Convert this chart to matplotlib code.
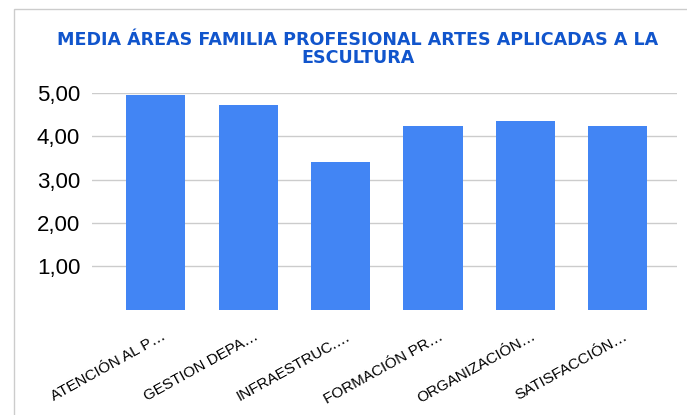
import matplotlib.pyplot as plt
from matplotlib.patches import Rectangle
from matplotlib.ticker import FuncFormatter
from matplotlib.transforms import ScaledTranslation

# media por área
areas = ['ATENCIÓN AL P…', 'GESTION DEPA…', 'INFRAESTRUC.…',
         'FORMACIÓN PR…', 'ORGANIZACIÓN…', 'SATISFACCIÓN…']
medias = [4.95, 4.73, 3.41, 4.23, 4.35, 4.23]
yticks = [1, 2, 3, 4, 5]

plt.rcParams['font.family'] = ['Liberation Sans', 'DejaVu Sans']

fig = plt.figure(figsize=(6.87, 4.15), dpi=100)
# marco gris del gráfico
fig.patches.append(Rectangle((14 / 687, -0.1), 1.2, 1.1 - 9 / 415,
                             transform=fig.transFigure, fill=False,
                             edgecolor='#cccccc', linewidth=1))

ax = fig.add_axes([92 / 687, 1 - 309.5 / 415, (677 - 92) / 687, (309.5 - 93) / 415])
x = range(len(areas))
ax.bar(x, medias, width=0.64, color='#4285f4', zorder=3)

ax.set_ylim(0, 5)
ax.set_xlim(-0.69, 5.64)
ax.set_yticks(yticks)
ax.yaxis.set_major_formatter(FuncFormatter(lambda v, p: f'{v:.2f}'.replace('.', ',')))
ax.grid(axis='y', color='#cccccc', linewidth=1, zorder=0)
for s in ax.spines.values():
    s.set_visible(False)
ax.tick_params(axis='y', length=0, pad=8.5, labelsize=16)
ax.tick_params(axis='x', length=0, pad=0)
ax.set_xticks(list(x))
ax.set_xticklabels(areas, rotation=29, ha='right', va='center', rotation_mode='anchor',
                   fontsize=11)
off = ScaledTranslation(9 / 100, -26 / 100, fig.dpi_scale_trans)
for lab in ax.get_xticklabels():
    lab.set_transform(lab.get_transform() + off)

fig.text(0.521, 1 - 49 / 415, 'MEDIA ÁREAS FAMILIA PROFESIONAL ARTES APLICADAS A LA\nESCULTURA',
         ha='center', va='center', color='#1155cc', fontsize=12.6, fontweight='bold',
         family='DejaVu Sans', linespacing=0.95)

fig.savefig('out.png', dpi=100)
